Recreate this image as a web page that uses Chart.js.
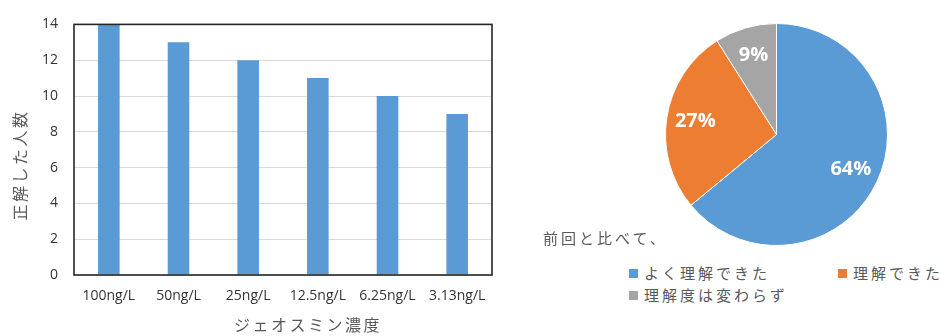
<!DOCTYPE html>
<html lang="ja">
<head>
<meta charset="utf-8">
<script src="https://cdn.jsdelivr.net/npm/chart.js@4"></script>
<style>
  body { margin: 0; width: 941px; height: 336px; background: #fff; position: relative; overflow: hidden;
         font-family: "Noto Sans CJK JP", sans-serif; color: #595959; }
  #barChart { position: absolute; left: 0; top: 0; }
  #pieChart { position: absolute; left: 665px; top: 23px; }
  #legendTitle { position: absolute; left: 543px; top: 227px; font-size: 15px; letter-spacing: 3px; line-height: 22px; }
  #legend { position: absolute; left: 629px; top: 262px; display: grid; grid-template-columns: 209px auto;
            font-size: 15px; letter-spacing: 3px; line-height: 22px; }
  .item { display: flex; align-items: center; white-space: nowrap; }
  .sw { width: 9px; height: 9px; margin-right: 6px; flex: none; }
</style>
</head>
<body>
<canvas id="barChart" width="500" height="336"></canvas>
<canvas id="pieChart" width="223" height="223"></canvas>
<div id="legendTitle"></div>
<div id="legend"></div>

<script>
// 濃度ごとの正解者数
const concentrations = ['100ng/L', '50ng/L', '25ng/L', '12.5ng/L', '6.25ng/L', '3.13ng/L'];
const correctCounts = [14, 13, 12, 11, 10, 9];
const yAxisTitle = '正解した人数';
const xAxisTitle = 'ジェオスミン濃度';

// 理解度アンケート (%)
const pieTitle = '前回と比べて、';
const pieLabels = ['よく理解できた', '理解できた', '理解度は変わらず'];
const pieValues = [64, 27, 9];
const pieColors = ['#5b9bd5', '#ed7d31', '#a5a5a5'];

const textColor = '#595959';
const tickColor = '#333333';
const jpFont = '"Noto Sans CJK JP", sans-serif';

// 枠線と軸タイトル
const frameAndTitles = {
  id: 'frameAndTitles',
  afterDatasetsDraw(chart) {
    const { ctx, chartArea: a } = chart;
    ctx.save();
    ctx.strokeStyle = '#262626';
    ctx.lineWidth = 1.6;
    ctx.strokeRect(a.left, a.top, a.right - a.left, a.bottom - a.top);

    ctx.fillStyle = textColor;
    ctx.font = '16px ' + jpFont;
    ctx.letterSpacing = '2.5px';
    ctx.textAlign = 'center';
    ctx.textBaseline = 'middle';
    ctx.fillText(xAxisTitle, 308, 325);

    ctx.translate(20, 165);
    ctx.rotate(-Math.PI / 2);
    ctx.fillText(yAxisTitle, 0, 0);
    ctx.restore();
  }
};

new Chart(document.getElementById('barChart'), {
  type: 'bar',
  data: {
    labels: concentrations,
    datasets: [{
      data: correctCounts,
      backgroundColor: '#5b9bd5',
      barPercentage: 0.31,
      categoryPercentage: 1
    }]
  },
  options: {
    responsive: false,
    animation: false,
    layout: { padding: { top: 23, right: 8, bottom: 0, left: 0 } },
    plugins: { legend: { display: false }, tooltip: { enabled: false } },
    scales: {
      x: {
        grid: { display: false, drawTicks: false },
        border: { display: false },
        ticks: { color: tickColor, font: { family: 'Open Sans', size: 14 }, padding: 13, maxRotation: 0, autoSkip: false },
        afterFit: s => { s.height = 61; }
      },
      y: {
        min: 0,
        max: 14,
        ticks: { stepSize: 2, color: tickColor, font: { family: 'Open Sans', size: 14 }, padding: 16 },
        grid: { color: '#d9d9d9', drawTicks: false },
        border: { display: false },
        afterFit: s => { s.width = 74; }
      }
    }
  },
  plugins: [frameAndTitles]
});

// 扇形の中に割合を表示
const sliceLabels = {
  id: 'sliceLabels',
  afterDatasetsDraw(chart) {
    const { ctx } = chart;
    const meta = chart.getDatasetMeta(0);
    ctx.save();
    ctx.fillStyle = '#fff';
    ctx.font = 'bold 20px "Open Sans"';
    ctx.textAlign = 'center';
    ctx.textBaseline = 'middle';
    meta.data.forEach((arc, i) => {
      const p = arc.getProps(['x', 'y', 'startAngle', 'endAngle', 'outerRadius'], true);
      const mid = (p.startAngle + p.endAngle) / 2;
      const r = p.outerRadius * 0.74;
      ctx.fillText(pieValues[i] + '%', p.x + Math.cos(mid) * r, p.y + Math.sin(mid) * r);
    });
    ctx.restore();
  }
};

new Chart(document.getElementById('pieChart'), {
  type: 'pie',
  data: {
    labels: pieLabels,
    datasets: [{
      data: pieValues,
      backgroundColor: pieColors,
      borderColor: '#fff',
      borderWidth: 1
    }]
  },
  options: {
    responsive: false,
    animation: false,
    layout: { padding: 0 },
    plugins: { legend: { display: false }, tooltip: { enabled: false } }
  },
  plugins: [sliceLabels]
});

// 凡例
document.getElementById('legendTitle').textContent = pieTitle;
const legend = document.getElementById('legend');
pieLabels.forEach((label, i) => {
  const item = document.createElement('div');
  item.className = 'item';
  const sw = document.createElement('span');
  sw.className = 'sw';
  sw.style.background = pieColors[i];
  item.appendChild(sw);
  item.appendChild(document.createTextNode(label));
  legend.appendChild(item);
});
</script>
</body>
</html>
